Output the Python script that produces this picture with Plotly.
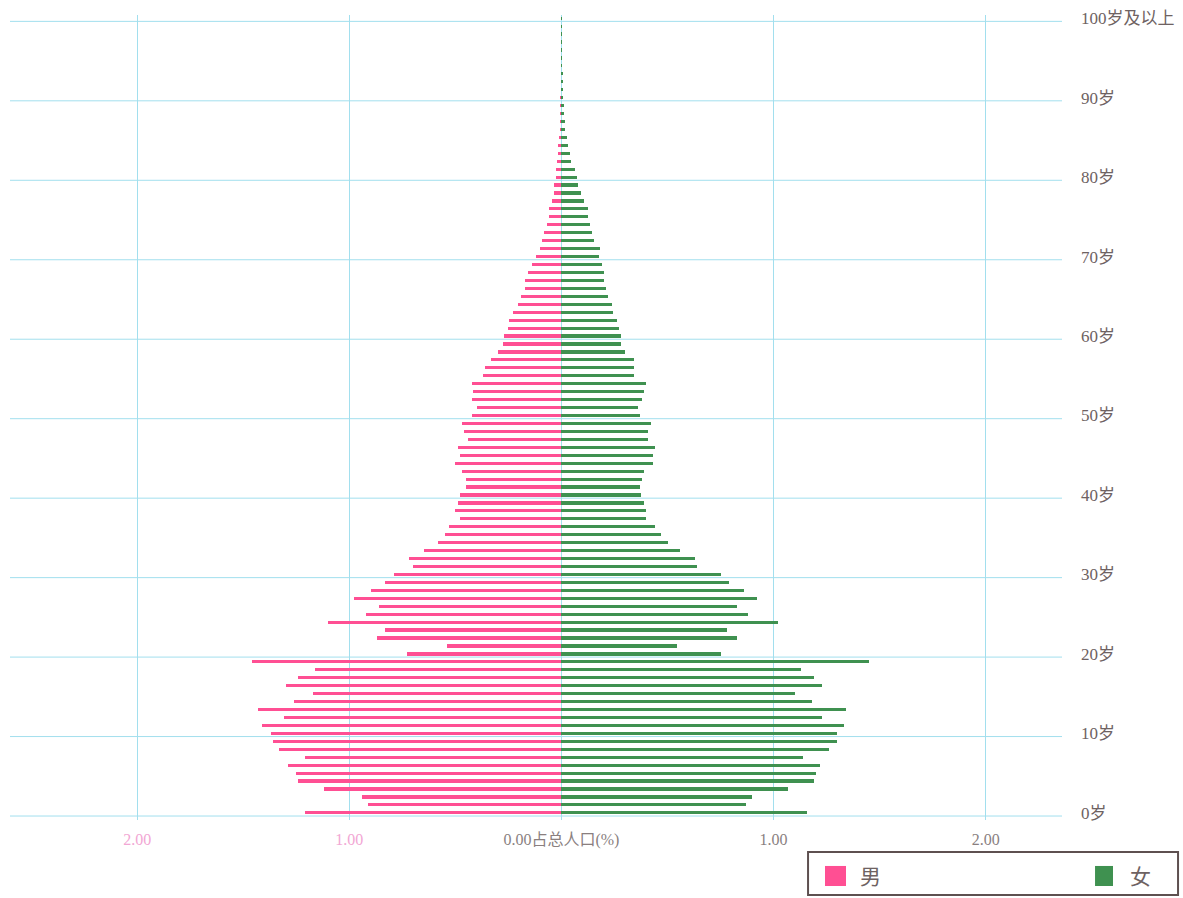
import plotly.graph_objects as go

ages = list(range(0, 101))

male = [1.21, 0.91, 0.94, 1.12, 1.24, 1.25, 1.29, 1.21, 1.33, 1.36,
        1.37, 1.41, 1.31, 1.43, 1.26, 1.17, 1.30, 1.24, 1.16, 1.46,
        0.73, 0.54, 0.87, 0.83, 1.10, 0.92, 0.86, 0.98, 0.90, 0.83,
        0.79, 0.70, 0.72, 0.65, 0.58, 0.55, 0.53, 0.48, 0.50, 0.49,
        0.48, 0.45, 0.45, 0.47, 0.50, 0.48, 0.49, 0.44, 0.46, 0.47,
        0.42, 0.40, 0.42, 0.415, 0.42, 0.37, 0.36, 0.33, 0.30, 0.275,
        0.27, 0.25, 0.245, 0.23, 0.205, 0.19, 0.17, 0.17, 0.16, 0.14,
        0.12, 0.10, 0.094, 0.08, 0.07, 0.06, 0.057, 0.045, 0.035, 0.033,
        0.028, 0.025, 0.02, 0.016, 0.014, 0.01, 0.008, 0.006, 0.005, 0.004,
        0.003, 0.002, 0.002, 0.001, 0.001, 0.001, 0.001, 0.0005, 0.0005, 0.0005,
        0.0005]

female = [1.16, 0.87, 0.90, 1.07, 1.19, 1.20, 1.22, 1.14, 1.26, 1.30,
          1.30, 1.33, 1.23, 1.34, 1.18, 1.10, 1.23, 1.19, 1.13, 1.45,
          0.75, 0.545, 0.83, 0.78, 1.02, 0.88, 0.83, 0.92, 0.86, 0.79,
          0.75, 0.64, 0.63, 0.56, 0.50, 0.47, 0.44, 0.40, 0.40, 0.39,
          0.375, 0.37, 0.38, 0.39, 0.43, 0.43, 0.44, 0.41, 0.41, 0.42,
          0.37, 0.36, 0.38, 0.39, 0.40, 0.34, 0.34, 0.34, 0.30, 0.28,
          0.28, 0.27, 0.26, 0.245, 0.24, 0.22, 0.21, 0.20, 0.20, 0.19,
          0.175, 0.18, 0.155, 0.145, 0.135, 0.127, 0.124, 0.105, 0.09, 0.077,
          0.072, 0.064, 0.047, 0.041, 0.032, 0.024, 0.018, 0.016, 0.012, 0.01,
          0.007, 0.005, 0.004, 0.003, 0.002, 0.002, 0.001, 0.001, 0.001, 0.0005,
          0.0005]

series_names = ["男", "女"]
x_tickvals = [-2, -1, 0, 1, 2]
x_ticktext = ["<span style='color:#f2a6d4'>2.00</span>",
              "<span style='color:#f2a6d4'>1.00</span>",
              "0.00占总人口(%)", "1.00", "2.00"]
y_tickvals = list(range(0, 101, 10))
y_ticktext = [f"{a}岁" for a in range(0, 100, 10)] + ["100岁及以上"]

PINK = "#ff4f93"
GREEN = "#3f9150"
GRID = "#a2dfee"
FONT = "Liberation Serif, Noto Sans CJK SC, serif"

fig = go.Figure()
fig.add_trace(go.Bar(y=ages, x=[-v for v in male], orientation="h", name=series_names[0],
                     marker=dict(color=PINK, line=dict(width=0)), width=0.4,
                     showlegend=False))
fig.add_trace(go.Bar(y=ages, x=female, orientation="h", name=series_names[1],
                     marker=dict(color=GREEN, line=dict(width=0)), width=0.4,
                     showlegend=False))

shapes = []
for a in y_tickvals:
    shapes.append(dict(type="line", xref="paper", x0=0, x1=1, yref="y",
                       y0=a - 0.4, y1=a - 0.4, line=dict(color=GRID, width=1),
                       layer="below"))

# legend box (drawn manually to match the boxed legend of the original)
shapes.append(dict(type="rect", xref="paper", yref="paper",
                   x0=0.7586, x1=1.1103, y0=-0.0932, y1=-0.0398,
                   line=dict(color="#5e5050", width=2), fillcolor="white"))
shapes.append(dict(type="rect", xref="paper", yref="paper",
                   x0=0.7747, x1=0.7947, y0=-0.0820, y1=-0.0571,
                   line=dict(width=0), fillcolor=PINK))
shapes.append(dict(type="rect", xref="paper", yref="paper",
                   x0=1.0314, x1=1.0485, y0=-0.0820, y1=-0.0571,
                   line=dict(width=0), fillcolor=GREEN))
annotations = [
    dict(xref="paper", yref="paper", x=0.806, y=-0.0705, text=series_names[0],
         showarrow=False, xanchor="left", yanchor="middle",
         font=dict(size=21, color="#6e6262")),
    dict(xref="paper", yref="paper", x=1.0627, y=-0.0705, text=series_names[1],
         showarrow=False, xanchor="left", yanchor="middle",
         font=dict(size=21, color="#6e6262")),
]

fig.update_layout(
    width=1183, height=898,
    barmode="overlay",
    bargap=0,
    plot_bgcolor="white", paper_bgcolor="white",
    margin=dict(l=10, r=121, t=15, b=78),
    font=dict(family=FONT, color="#7a6e6e"),
    shapes=shapes,
    annotations=annotations,
    xaxis=dict(range=[-2.6, 2.36], tickvals=x_tickvals, ticktext=x_ticktext,
               showgrid=True, gridcolor=GRID, gridwidth=1,
               zeroline=True, zerolinecolor=GRID, zerolinewidth=1,
               showline=False, ticks="", tickfont=dict(size=16, color="#8a7f7f"),
               ticklabelstandoff=8, automargin=False),
    yaxis=dict(range=[-0.9, 100.4], side="right", tickvals=y_tickvals,
               ticktext=y_ticktext, showgrid=False, zeroline=False,
               showline=False, ticks="", tickfont=dict(size=17, color="#6e6262"),
               ticklabelstandoff=18, automargin=False),
    showlegend=False,
)

fig.write_html("out.html",
               config={"displayModeBar": False},
               post_script="document.body.style.margin='0';"
                           "document.body.style.overflow='hidden';")
